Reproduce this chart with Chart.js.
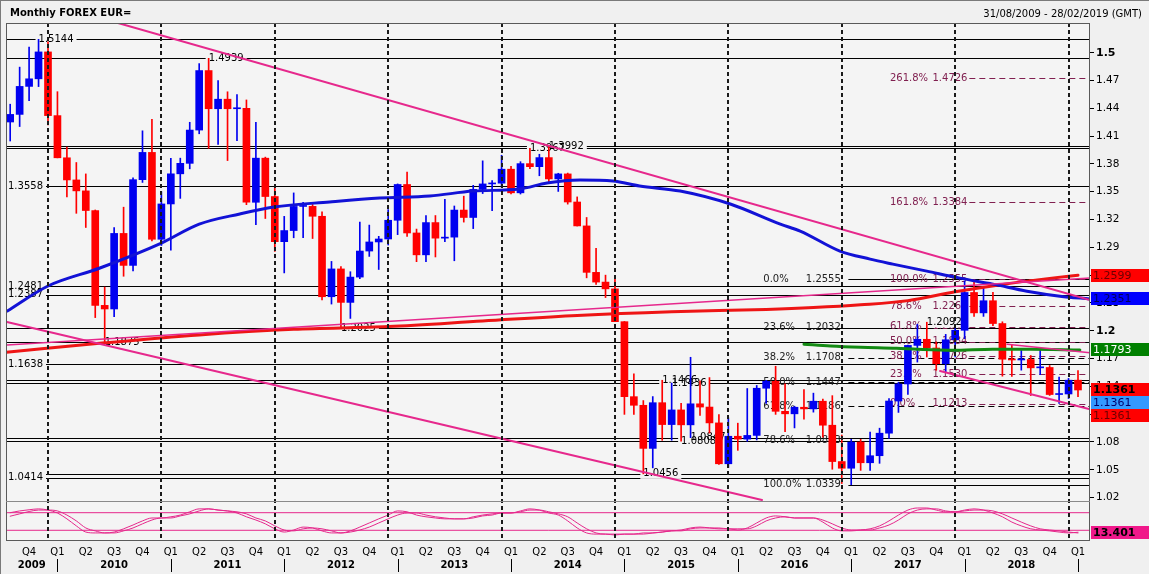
<!DOCTYPE html>
<html><head><meta charset="utf-8">
<script src="https://cdn.jsdelivr.net/npm/chart.js@4.4.1/dist/chart.umd.min.js"></script>
<style>
html,body{margin:0;padding:0;background:#f0f0f0;}
#wrap{position:relative;width:1149px;height:574px;overflow:hidden;border-top:1px solid #7a7a7a;box-sizing:border-box;}
canvas{position:absolute;left:0;top:0;}
.t{position:absolute;font-family:'DejaVu Sans',sans-serif;font-size:10px;color:#000;white-space:nowrap;line-height:12px;}
</style></head><body>
<div id="wrap">
<canvas id="c" width="1149" height="574"></canvas>
<div class="t" style="left:10px;top:6px;font-weight:bold;">Monthly FOREX EUR=</div>
<div class="t" style="right:7px;top:7px;">31/08/2009 - 28/02/2019 (GMT)</div>
</div>
<script>
// ---------- DATA (month index 0 = Aug 2009) ----------
const opens = [1.4252,1.4334,1.4636,1.4718,1.5008,
1.4321,1.3866,1.3627,1.3509,1.3297,1.2274,1.2235,1.3050,1.2705,1.3630,1.3924,1.2987,
1.3368,1.3693,1.3806,1.4165,1.4807,1.4395,1.4498,1.4395,1.4400,1.3386,1.3862,1.3448,
1.2961,1.3081,1.3341,1.3342,1.3235,1.2367,1.2667,1.2306,1.2579,1.2860,1.2958,1.2990,
1.3192,1.3578,1.3055,1.2819,1.3167,1.2999,1.3010,1.3302,1.3222,1.3525,1.3584,1.3592,
1.3743,1.3488,1.3803,1.3770,1.3868,1.3638,1.3692,1.3389,1.3131,1.2630,1.2525,1.2452,
1.2098,1.1289,1.1196,1.0731,1.1224,1.0988,1.1146,1.0985,1.1212,1.1177,1.1006,1.0565,
1.0862,1.0831,1.0871,1.1380,1.1455,1.1131,1.1104,1.1175,1.1157,1.1240,1.0981,1.0589,
1.0517,1.0799,1.0576,1.0652,1.0895,1.1242,1.1426,1.1842,1.1908,1.1814,1.1645,1.1903,
1.2005,1.2413,1.2193,1.2324,1.2078,1.1693,1.1685,1.1690,1.1600,1.1604,1.1312,1.1318,
1.1467];
const highs = [1.4444,1.4844,1.5061,1.5144,1.5118,
1.4579,1.3982,1.3815,1.3692,1.3303,1.2471,1.3112,1.3333,1.3650,1.4157,1.4282,1.3500,
1.3861,1.3862,1.4249,1.4882,1.4939,1.4698,1.4578,1.4549,1.4490,1.4248,1.3873,1.3549,
1.3234,1.3487,1.3386,1.3363,1.3283,1.2748,1.2693,1.2637,1.3173,1.3140,1.3019,1.3307,
1.3584,1.3711,1.3097,1.3243,1.3243,1.3417,1.3346,1.3452,1.3569,1.3833,1.3621,1.3893,
1.3775,1.3824,1.3967,1.3904,1.3992,1.3699,1.3701,1.3444,1.3222,1.2888,1.2600,1.2570,
1.2100,1.1535,1.1247,1.1290,1.1466,1.1436,1.1216,1.1714,1.1460,1.1495,1.1095,1.1060,
1.1003,1.1377,1.1410,1.1464,1.1617,1.1428,1.1186,1.1366,1.1327,1.1262,1.1300,1.0875,
1.0829,1.0829,1.0906,1.0949,1.1268,1.1445,1.1846,1.2070,1.2092,1.1880,1.1961,1.2023,
1.2537,1.2555,1.2476,1.2414,1.2097,1.1852,1.1791,1.1733,1.1815,1.1625,1.1500,1.1486,
1.1570];
const lows = [1.4047,1.4203,1.4483,1.4634,1.4220,
1.3865,1.3444,1.3267,1.3114,1.2142,1.1875,1.2151,1.2588,1.2645,1.3600,1.2970,1.2920,
1.2870,1.3428,1.3747,1.4125,1.3968,1.4009,1.3836,1.4050,1.3360,1.3145,1.3211,1.2856,
1.2624,1.3003,1.3004,1.2995,1.2334,1.2288,1.2042,1.2133,1.2563,1.2802,1.2661,1.2925,
1.3037,1.3017,1.2745,1.2745,1.2796,1.2960,1.2755,1.3172,1.3102,1.3480,1.3295,1.3548,
1.3477,1.3475,1.3749,1.3672,1.3590,1.3503,1.3366,1.3130,1.2571,1.2499,1.2358,1.2098,
1.1098,1.1098,1.0456,1.0521,1.0818,1.0819,1.0808,1.0847,1.1087,1.0896,1.0558,1.0524,
1.0710,1.0808,1.0822,1.1217,1.1098,1.0911,1.0952,1.1045,1.1122,1.0852,1.0506,1.0352,
1.0339,1.0494,1.0494,1.0570,1.0838,1.1119,1.1312,1.1662,1.1717,1.1574,1.1554,1.1717,
1.1915,1.2154,1.2155,1.2055,1.1510,1.1508,1.1575,1.1301,1.1526,1.1302,1.1216,1.1269,
1.1289];
const closes = [1.4334,1.4636,1.4718,1.5008,1.4321,
1.3866,1.3627,1.3509,1.3297,1.2274,1.2235,1.3050,1.2705,1.3630,1.3924,1.2987,1.3368,
1.3693,1.3806,1.4165,1.4807,1.4395,1.4498,1.4395,1.4400,1.3386,1.3862,1.3448,1.2961,
1.3081,1.3341,1.3342,1.3235,1.2367,1.2667,1.2306,1.2579,1.2860,1.2958,1.2990,1.3192,
1.3578,1.3055,1.2819,1.3167,1.2999,1.3010,1.3302,1.3222,1.3525,1.3584,1.3592,1.3743,
1.3488,1.3803,1.3770,1.3868,1.3638,1.3692,1.3389,1.3131,1.2630,1.2525,1.2452,1.2098,
1.1289,1.1196,1.0731,1.1224,1.0988,1.1146,1.0985,1.1212,1.1177,1.1006,1.0565,1.0862,
1.0831,1.0871,1.1380,1.1455,1.1131,1.1104,1.1175,1.1157,1.1240,1.0981,1.0589,1.0517,
1.0799,1.0576,1.0652,1.0895,1.1242,1.1426,1.1842,1.1908,1.1814,1.1645,1.1903,1.2005,
1.2413,1.2193,1.2324,1.2078,1.1693,1.1685,1.1690,1.1600,1.1604,1.1312,1.1318,1.1467,
1.1361];

// moving averages (month index, value)
const blueMaMonths = [-0.3,4,9.5,16,20,24.3,27.9,33.8,39.1,44.4,49,53.9,56.8,60.3,63.8,66.6,70.9,76.2,81.5,83.6,87.8,91,93.4,97,100.5,104,107.6,111.1,114.3];
const blueMaValues = [1.2213,1.2483,1.2677,1.2946,1.3150,1.3260,1.3334,1.3390,1.3432,1.3453,1.3507,1.3529,1.3594,1.3626,1.3615,1.3561,1.3507,1.3367,1.3150,1.3076,1.2860,1.2773,1.2719,1.2643,1.2568,1.2503,1.2427,1.2373,1.2343];
const redMaMonths = [-0.4,10,20,30,40,50,60,70,80,85,90,95,100,105,110,113];
const redMaValues = [1.1769,1.1870,1.1955,1.2015,1.2045,1.2105,1.2165,1.2205,1.2230,1.2250,1.2280,1.2325,1.2420,1.2500,1.2565,1.2599];
const greenMaMonths = [84,86.8,90,93.8,96,99.7,104,108,113.2];
const greenMaValues = [1.1855,1.1836,1.1822,1.1811,1.1800,1.1789,1.1800,1.1800,1.1793];

// trend lines: [startMonth, startValue, endMonth, endValue]
const trendUpperDesc = [11.41, 1.5320, 114.27, 1.2332];
const trendLowerDesc = [-0.34, 1.2094, 79.56, 1.0174];
const trendRising    = [-0.34, 1.1846, 114.27, 1.2569];
const trendRecentLow = [98.4, 1.1566, 114.27, 1.1153];
const trendRecentUp  = [105.5, 1.1854, 114.27, 1.1763];

// horizontal levels and the month whose extreme set them (null = labelled at left edge)
const hLevels      = [1.5144,1.4939,1.3967,1.3992,1.3558,1.2481,1.2387,1.2025,1.1875,1.1638,1.1466,1.1436,1.0808,1.0847,1.0456,1.0414];
const hLevelMonths = [3,21,55,57,null,null,null,35,10,null,69,70,71,72,67,null];
const extraLabelValues = [1.2092];
const extraLabelMonths = [97];

// Fibonacci retracement 1 (1.2555 -> 1.0339)
const fib1Pct    = ['0.0%','23.6%','38.2%','50.0%','61.8%','78.6%','100.0%'];
const fib1Values = [1.2555,1.2032,1.1708,1.1447,1.1186,1.0813,1.0339];
// Fibonacci extension 2 (1.1213 -> 1.2555)
const fib2Pct    = ['261.8%','161.8%','100.0%','78.6%','61.8%','50.0%','38.2%','23.6%','0.0%'];
const fib2Values = [1.4726,1.3384,1.2555,1.2268,1.2042,1.1884,1.1726,1.1530,1.1213];

// oscillator (two lines), one value per month
const oscK = [80,86,90,93,89,79,59,35,14,11,11,14,25,38,52,62,62,66,72,83,93,93,89,86,79,66,55,42,25,14,21,31,28,18,11,11,18,31,45,59,72,86,83,72,66,62,59,59,59,66,72,76,79,79,86,93,89,79,72,52,28,11,7,7,4,7,7,11,11,14,18,21,28,31,28,25,25,21,28,45,62,69,66,62,62,62,48,28,18,18,21,25,35,52,72,89,96,96,89,83,83,89,93,89,79,66,48,35,25,21,18,14,11,13.401];
const oscD = [68,76,84,89,89,86,72,52,28,18,11,11,18,28,42,55,62,62,69,76,86,93,89,86,83,76,62,52,35,21,18,25,28,25,18,11,14,21,31,45,59,72,79,79,72,66,62,59,59,62,69,72,79,79,83,89,89,83,76,66,45,25,11,7,7,7,7,7,11,14,18,18,25,28,28,28,25,25,25,35,52,62,66,62,62,62,55,42,28,21,21,21,28,38,55,76,89,93,93,86,83,86,89,89,86,76,62,48,35,25,21,18,14,11];
const oscLevels = [80,20];

// axis ticks
const yTicks      = [1.02,1.05,1.08,1.11,1.14,1.17,1.2,1.23,1.26,1.29,1.32,1.35,1.38,1.41,1.44,1.47,1.5];
const yTickLabels = ['1.02','1.05','1.08','1.11','1.14','1.17','1.2','1.23','1.26','1.29','1.32','1.35','1.38','1.41','1.44','1.47','1.5'];
const yBoldLabels = ['1.2','1.5'];
const qTickMonths = [2,5,8,11,14,17,20,23,26,29,32,35,38,41,44,47,50,53,56,59,62,65,68,71,74,77,80,83,86,89,92,95,98,101,104,107,110,113];
const qTickLabels = ['Q4','Q1','Q2','Q3','Q4','Q1','Q2','Q3','Q4','Q1','Q2','Q3','Q4','Q1','Q2','Q3','Q4','Q1','Q2','Q3','Q4','Q1','Q2','Q3','Q4','Q1','Q2','Q3','Q4','Q1','Q2','Q3','Q4','Q1','Q2','Q3','Q4','Q1'];
const years       = ['2009','2010','2011','2012','2013','2014','2015','2016','2017','2018'];
const yearStartMonths = [5,17,29,41,53,65,77,89,101,113];   // January of each next year
const yearGridMonths  = [4,16,28,40,52,64,76,88,100,112];   // dashed separators

// right-side value boxes
const sideValues = [1.2599,1.2351,1.1793,1.1361,1.1361,1.1361];
const sideBg     = ['#ff0000','#0000ff','#008000','#ff0000','#3399ff','#ff0000'];
const sideFg     = ['#6a0000','#00005a','#ffffff','#000000','#00006a','#6a0000'];
const sideBold   = [false,false,false,true,false,false];
const oscLast = 13.401;

// ---------- STYLE ----------
const FONT = "'DejaVu Sans', sans-serif";
const PLOT_BG = '#f4f4f4';
const BLUE = '#0000f0', RED = '#ff0000', PINK = '#e6288c', MAROON = '#802050';
const X_MIN = -0.444, X_MAX = 114.27;

const zip = (a,b) => a.map((v,i)=>({x:v, y:b[i]}));
const seg = t => [{x:t[0],y:t[1]},{x:t[2],y:t[3]}];
const up = closes.map((c,i)=>c>=opens[i]);

const wickData = lows.map((l,i)=>({x:i, y:[l, highs[i]]}));
const bodyData = opens.map((o,i)=>({x:i, y:[o, closes[i]]}));
const candleColors = up.map(u=>u?BLUE:RED);

function lineDs(data, color, width, order, axis, tension){
  return {type:'line', data, borderColor:color, borderWidth:width, pointRadius:0, fill:false,
          tension: tension||0, cubicInterpolationMode: tension ? 'monotone' : 'default',
          order, yAxisID: axis||'y', borderCapStyle:'round', borderJoinStyle:'round'};
}

const datasets = [
  lineDs(seg(trendUpperDesc), PINK, 2, 1),
  lineDs(seg(trendLowerDesc), PINK, 2, 1),
  lineDs(seg(trendRising), PINK, 1.5, 1),
  lineDs(seg(trendRecentLow), PINK, 2, 1),
  lineDs(seg(trendRecentUp), PINK, 1.6, 1),
  lineDs(zip(blueMaMonths, blueMaValues), '#1212d6', 3, 2, 'y', 0.4),
  lineDs(zip(redMaMonths, redMaValues), '#ee1515', 3, 2, 'y', 0.4),
  lineDs(zip(greenMaMonths, greenMaValues), '#138a13', 3, 2, 'y', 0.4),
  lineDs(oscK.map((v,i)=>({x:i,y:v})), PINK, 1, 1, 'yi', 0.4),
  lineDs(oscD.map((v,i)=>({x:i,y:v})), PINK, 1, 1, 'yi', 0.4),
  lineDs([{x:X_MIN,y:oscLevels[0]},{x:X_MAX,y:oscLevels[0]}], PINK, 1, 3, 'yi'),
  lineDs([{x:X_MIN,y:oscLevels[1]},{x:X_MAX,y:oscLevels[1]}], PINK, 1, 3, 'yi'),
  {type:'bar', data: bodyData, backgroundColor: candleColors, barThickness:7, minBarLength:1, grouped:false, order:4, borderWidth:0},
  {type:'bar', data: wickData, backgroundColor: candleColors, barThickness:1, grouped:false, order:5, borderWidth:0}
];

const overlay = {
  id:'overlay',
  beforeDraw(chart){
    const {ctx, chartArea:a} = chart;
    ctx.save(); ctx.fillStyle = PLOT_BG; ctx.fillRect(a.left,a.top,a.right-a.left,a.bottom-a.top); ctx.restore();
  },
  beforeDatasetsDraw(chart){
    const {ctx, chartArea:a, scales:{x,y}} = chart;
    ctx.save();
    ctx.beginPath(); ctx.rect(a.left,a.top,a.right-a.left,a.bottom-a.top); ctx.clip();
    const py = v => Math.round(y.getPixelForValue(v))+0.5;
    ctx.lineWidth = 1;
    ctx.strokeStyle = '#000';
    hLevels.forEach(v=>{ctx.beginPath(); ctx.moveTo(a.left,py(v)); ctx.lineTo(a.right,py(v)); ctx.stroke();});
    ctx.font = `10px ${FONT}`; ctx.textBaseline = 'middle';
    const f1pctX = x.getPixelForValue(79.7), f1valX = x.getPixelForValue(84.2), f1lineX = x.getPixelForValue(88.7);
    fib1Values.forEach((v,k)=>{
      ctx.setLineDash(k===0||k===fib1Values.length-1?[]:[6,4]);
      ctx.strokeStyle='#000';
      ctx.beginPath(); ctx.moveTo(f1lineX,py(v)); ctx.lineTo(a.right,py(v)); ctx.stroke();
      ctx.fillStyle='#222';
      ctx.fillText(fib1Pct[k], f1pctX, y.getPixelForValue(v));
      ctx.fillText(v.toFixed(4), f1valX, y.getPixelForValue(v));
    });
    const f2pctX = x.getPixelForValue(93.1), f2valX = x.getPixelForValue(97.6), f2lineX = x.getPixelForValue(101.5);
    fib2Values.forEach((v,k)=>{
      ctx.setLineDash([6,4]); ctx.strokeStyle = MAROON;
      ctx.beginPath(); ctx.moveTo(f2lineX,py(v)); ctx.lineTo(a.right,py(v)); ctx.stroke();
      ctx.fillStyle = MAROON;
      ctx.fillText(fib2Pct[k], f2pctX, y.getPixelForValue(v));
      ctx.fillText(v.toFixed(4), f2valX, y.getPixelForValue(v));
    });
    ctx.setLineDash([]);
    const labels = hLevels.map((v,k)=>({t:v.toFixed(4), x: hLevelMonths[k]==null ? a.left+2 : x.getPixelForValue(hLevelMonths[k]), y:y.getPixelForValue(v)}))
      .concat(extraLabelValues.map((v,k)=>({t:v.toFixed(4), x:x.getPixelForValue(extraLabelMonths[k]), y:y.getPixelForValue(v)})));
    labels.forEach(l=>{const w=ctx.measureText(l.t).width; ctx.fillStyle=PLOT_BG; ctx.fillRect(l.x-3,l.y-5,w+6,10);});
    ctx.fillStyle='#000';
    labels.forEach(l=>ctx.fillText(l.t,l.x,l.y));
    ctx.restore();
  },
  afterDatasetsDraw(chart){
    const {ctx, chartArea:a, scales:{x}} = chart;
    ctx.save();
    ctx.strokeStyle='#1a1a1a'; ctx.lineWidth=2; ctx.setLineDash([4,3]);
    yearGridMonths.forEach(m=>{const px=Math.round(x.getPixelForValue(m)); ctx.beginPath(); ctx.moveTo(px,a.top); ctx.lineTo(px,a.bottom); ctx.stroke();});
    ctx.setLineDash([]);
    ctx.lineWidth=1; ctx.strokeStyle='#5a5a5a';
    ctx.strokeRect(a.left+0.5,a.top+0.5,a.right-a.left-1,a.bottom-a.top-1);
    const paneTop = Math.round(a.bottom - 40)+0.5;
    ctx.strokeStyle='#8a8a8a';
    ctx.beginPath(); ctx.moveTo(a.left,paneTop); ctx.lineTo(a.right,paneTop); ctx.stroke();
    ctx.restore();
  },
  afterDraw(chart){
    const {ctx, chartArea:a, scales:{x,y,yi}, width} = chart;
    ctx.save();
    const H = 13;
    let prevBottom = -1e9;
    ctx.textBaseline='middle';
    sideValues.forEach((v,k)=>{
      let cy = y.getPixelForValue(v);
      let top = Math.max(Math.round(cy - H/2), prevBottom);
      prevBottom = top + H;
      ctx.fillStyle = sideBg[k]; ctx.fillRect(a.right+1, top, width-a.right-1, H);
      ctx.fillStyle = sideFg[k]; ctx.font = `${sideBold[k]?'bold ':''}11px ${FONT}`;
      ctx.fillText(v.toFixed(4), a.right+3, top+H/2+0.5);
    });
    const oy = Math.round(yi.getPixelForValue(oscLast) - H/2);
    ctx.fillStyle='#f0188a'; ctx.fillRect(a.right+1, oy, width-a.right-1, H);
    ctx.fillStyle='#000'; ctx.font=`bold 11px ${FONT}`; ctx.fillText(oscLast.toFixed(3), a.right+3, oy+H/2+0.5);
    const rowY = a.bottom + 24;
    ctx.font = `bold 10px ${FONT}`; ctx.textAlign='center'; ctx.fillStyle='#000';
    years.forEach((yr,k)=>{
      const s = k===0 ? a.left : x.getPixelForValue(yearStartMonths[k-1]);
      const e = x.getPixelForValue(yearStartMonths[k]);
      ctx.fillText(yr, (s+e)/2, rowY);
    });
    ctx.strokeStyle='#000'; ctx.lineWidth=1;
    yearStartMonths.forEach(m=>{const px=Math.round(x.getPixelForValue(m))+0.5; ctx.beginPath(); ctx.moveTo(px,rowY-6); ctx.lineTo(px,rowY+7); ctx.stroke();});
    ctx.strokeStyle='#7a7a7a'; ctx.beginPath(); ctx.moveTo(0.5,0); ctx.lineTo(0.5,chart.height); ctx.stroke();
    ctx.restore();
  }
};

Chart.defaults.font.family = FONT;
new Chart(document.getElementById('c'), {
  type:'bar',
  data:{datasets},
  options:{
    responsive:false, animation:false, devicePixelRatio:1,
    layout:{padding:{left:6, top:22, right:0, bottom:0}},
    plugins:{legend:{display:false}, tooltip:{enabled:false}},
    scales:{
      x:{type:'linear', min:X_MIN, max:X_MAX, offset:false,
         grid:{display:false, drawTicks:false}, border:{display:false},
         afterBuildTicks: s=>{ s.ticks = qTickMonths.map(v=>({value:v})); },
         afterFit: s=>{ s.height = 34; },
         ticks:{autoSkip:false, maxRotation:0, padding:5, color:'#000', font:{size:10, family:FONT},
                callback:(v,i)=>qTickLabels[i]}},
      y:{position:'right', min:0.9732, max:1.532,
         grid:{drawOnChartArea:false, drawTicks:true, tickLength:4, color:'#000'}, border:{display:false},
         afterBuildTicks: s=>{ s.ticks = yTicks.map(v=>({value:v})); },
         afterFit: s=>{ s.width = 59; },
         ticks:{autoSkip:false, padding:2, color:'#000',
                callback:(v,i)=>yTickLabels[i],
                font:(c)=>({family:FONT, size: yBoldLabels.includes(yTickLabels[c.index])?11:10.5,
                            weight: yBoldLabels.includes(yTickLabels[c.index])?'bold':'normal'})}},
      yi:{display:false, min:-16.5, max:1749.4}
    }
  },
  plugins:[overlay]
});
</script>
</body></html>
